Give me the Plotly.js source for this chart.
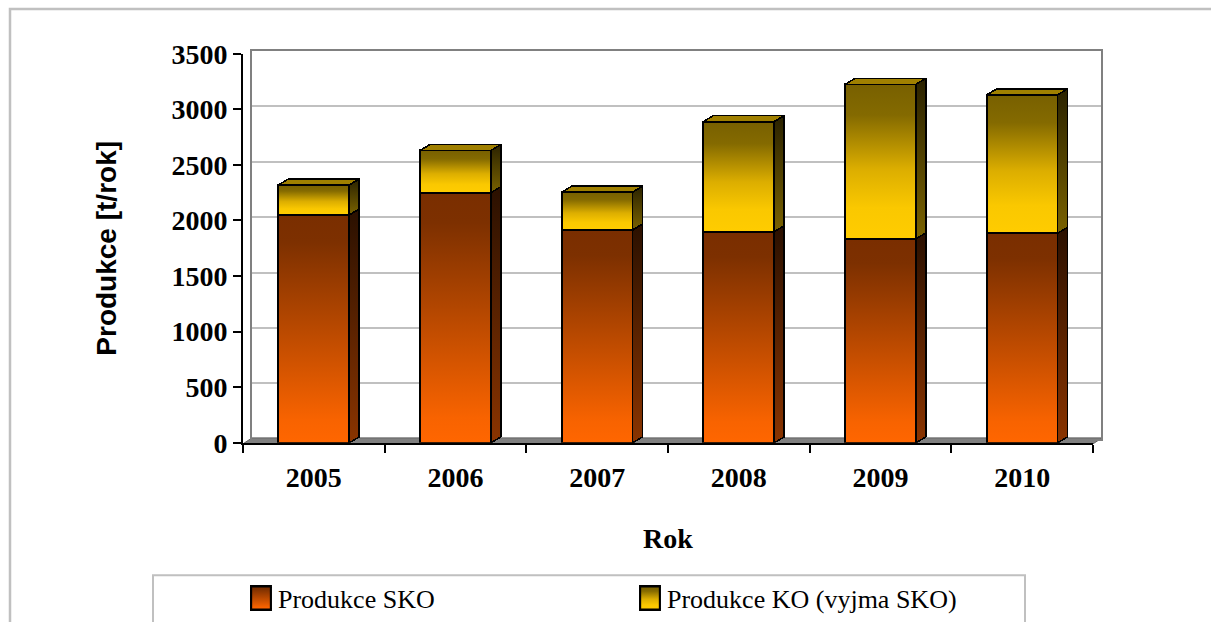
<!DOCTYPE html>
<html>
<head>
<meta charset="utf-8">
<script src="https://cdn.plot.ly/plotly-3.0.1.min.js"></script>
<style>
html,body{margin:0;padding:0;background:#fff;}
#chart{width:1211px;height:622px;}
</style>
</head>
<body>
<div id="chart"></div>
<script>
// ---- data ----
const years = ['2005', '2006', '2007', '2008', '2009', '2010'];
const produkceSKO = [2050, 2250, 1915, 1900, 1835, 1885];
const produkceKO = [270, 380, 340, 990, 1390, 1245];
const seriesNames = ['Produkce SKO', 'Produkce KO (vyjma SKO)'];
const yTicks = [0, 500, 1000, 1500, 2000, 2500, 3000, 3500];

const W = 1211, H = 622;
const px = v => v / W;
const py = v => 1 - v / H;

const serifBold = {family: 'Liberation Serif, Times New Roman, serif', size: 28, color: '#000', weight: 'bold'};

const data = [
  {
    type: 'bar', name: seriesNames[0], x: years, y: produkceSKO,
    xaxis: 'x2', yaxis: 'y2',
    marker: {color: '#c04d00', line: {color: '#000', width: 2}}
  },
  {
    type: 'bar', name: seriesNames[1], x: years, y: produkceKO,
    xaxis: 'x2', yaxis: 'y2',
    marker: {color: '#e0b000', line: {color: '#000', width: 2}}
  },
  // invisible helper for back wall subplot
  {type: 'scatter', x: [0], y: [0], xaxis: 'x', yaxis: 'y', mode: 'markers',
   marker: {opacity: 0}, showlegend: false, hoverinfo: 'skip'}
];

const layout = {
  width: W, height: H,
  margin: {l: 0, r: 0, t: 0, b: 0},
  paper_bgcolor: '#fff', plot_bgcolor: 'rgba(0,0,0,0)',
  barmode: 'stack', bargap: 0.5,
  showlegend: true,
  legend: {
    orientation: 'h', x: px(238), xanchor: 'left', y: py(601), yanchor: 'middle',
    font: {family: 'Liberation Serif, Times New Roman, serif', size: 26, color: '#000'},
    entrywidth: 344, traceorder: 'normal', bgcolor: 'rgba(0,0,0,0)'
  },
  // back wall (grid) subplot
  xaxis: {
    domain: [px(252), px(1101)], anchor: 'y', range: [0, 1],
    showgrid: false, zeroline: false, showticklabels: false, ticks: '',
    showline: true, mirror: true, linecolor: '#808080', linewidth: 2, fixedrange: true
  },
  yaxis: {
    domain: [py(441), py(51)], anchor: 'x', range: [0, 3500],
    tickvals: yTicks, showgrid: true, gridcolor: '#c0c0c0', gridwidth: 2,
    zeroline: false, showticklabels: false, ticks: '',
    showline: true, mirror: true, linecolor: '#808080', linewidth: 2, fixedrange: true
  },
  // front subplot with bars
  xaxis2: {
    domain: [px(243), px(1093)], anchor: 'y2', type: 'category',
    showgrid: false, zeroline: false,
    showline: true, linecolor: '#000', linewidth: 2,
    ticks: 'outside', tickson: 'boundaries', ticklen: 8, tickwidth: 2, tickcolor: '#000',
    tickfont: serifBold, ticklabelstandoff: 9,
    title: {text: 'Rok', font: serifBold, standoff: 36},
    automargin: false, fixedrange: true
  },
  yaxis2: {
    domain: [py(445), py(54)], anchor: 'x2', range: [0, 3500],
    tickvals: yTicks, ticktext: yTicks.map(String),
    showgrid: false, zeroline: false,
    showline: true, linecolor: '#000', linewidth: 2,
    ticks: 'outside', ticklen: 8, tickwidth: 2, tickcolor: '#000',
    tickfont: serifBold,
    title: {text: 'Produkce [t/rok]', font: {family: 'Liberation Sans, Arial, sans-serif', size: 28, color: '#000', weight: 'bold'}, standoff: 47},
    automargin: false, fixedrange: true
  },
  shapes: [
    // outer chart border
    {type: 'rect', xref: 'paper', yref: 'paper', x0: px(10), x1: px(1240), y0: py(660), y1: py(9),
     line: {color: '#c0c0c0', width: 2.5}, fillcolor: 'rgba(0,0,0,0)', layer: 'below'},
    // legend box
    {type: 'rect', xref: 'paper', yref: 'paper', x0: px(153), x1: px(1025), y0: py(660), y1: py(578),
     line: {color: '#c0c0c0', width: 2}, fillcolor: 'rgba(0,0,0,0)', layer: 'below'},
    // floor
    {type: 'path', xref: 'paper', yref: 'paper',
     path: `M ${px(243)} ${py(446)} L ${px(252)} ${py(440)} L ${px(1102)} ${py(440)} L ${px(1093)} ${py(446)} Z`,
     fillcolor: '#808080', line: {color: '#606060', width: 1}, layer: 'below'}
  ]
};

const gd = document.getElementById('chart');

function svgEl(tag, attrs) {
  const e = document.createElementNS('http://www.w3.org/2000/svg', tag);
  for (const k in attrs) e.setAttribute(k, attrs[k]);
  return e;
}
function addGrad(defs, id, stops) {
  const g = svgEl('linearGradient', {id: id, x1: '0', y1: '0', x2: '0', y2: '1'});
  stops.forEach(s => g.appendChild(svgEl('stop', {offset: s[0], 'stop-color': s[1]})));
  defs.appendChild(g);
}

function decorate() {
  const svg = gd.querySelector('svg.main-svg');
  let defs = svg.querySelector('defs');
  if (!defs) { defs = svgEl('defs', {}); svg.insertBefore(defs, svg.firstChild); }
  addGrad(defs, 'gF0', [[0, '#7a2e00'], [0.12, '#7d3000'], [0.9, '#f86300'], [1, '#ff6600']]);
  addGrad(defs, 'gS0', [[0, '#2a1000'], [1, '#8a3400']]);
  addGrad(defs, 'gF1', [[0, '#786000'], [0.2, '#846a00'], [0.55, '#dcae00'], [0.8, '#fac800'], [1, '#ffcc00']]);
  addGrad(defs, 'gS1', [[0, '#2a2200'], [1, '#7a6200']]);
  const topCol = ['#a04000', '#a08000'];
  const dx = 10, dy = -6;

  const traces = gd.querySelectorAll('.barlayer .trace.bars');
  traces.forEach((tr, ti) => {
    tr.querySelectorAll('.point').forEach(pt => {
      const p = pt.querySelector('path');
      if (!p) return;
      const d = p.getAttribute('d');
      const m = d.match(/M([\d.\-]+),([\d.\-]+)V([\d.\-]+)H([\d.\-]+)V/);
      if (!m) return;
      const x0 = +m[1], y0 = +m[2], y1 = +m[3], x1 = +m[4];
      p.style.fill = `url(#gF${ti})`;
      const yt = Math.min(y0, y1), yb = Math.max(y0, y1);
      const xl = Math.min(x0, x1), xr = Math.max(x0, x1);
      const side = svgEl('polygon', {
        points: `${xr},${yb} ${xr + dx},${yb + dy} ${xr + dx},${yt + dy} ${xr},${yt}`,
        fill: `url(#gS${ti})`, stroke: '#000', 'stroke-width': 1.6, 'stroke-linejoin': 'round'
      });
      const top = svgEl('polygon', {
        points: `${xl},${yt} ${xl + dx},${yt + dy} ${xr + dx},${yt + dy} ${xr},${yt}`,
        fill: topCol[ti], stroke: '#000', 'stroke-width': 1.6, 'stroke-linejoin': 'round'
      });
      pt.appendChild(side);
      pt.appendChild(top);
    });
  });

  // legend symbols
  const legTraces = gd.querySelectorAll('.legend .traces');
  legTraces.forEach((lt, i) => {
    lt.querySelectorAll('.legendpoints path').forEach(p => {
      p.style.fill = `url(#gF${i})`;
      p.style.strokeWidth = '1.3px';
      const t = p.getAttribute('transform') || '';
      p.setAttribute('transform', t + ' translate(3,0) scale(1.65,1.95)');
    });
  });
}

Plotly.newPlot(gd, data, layout, {staticPlot: true, displayModeBar: false}).then(decorate);
</script>
</body>
</html>
